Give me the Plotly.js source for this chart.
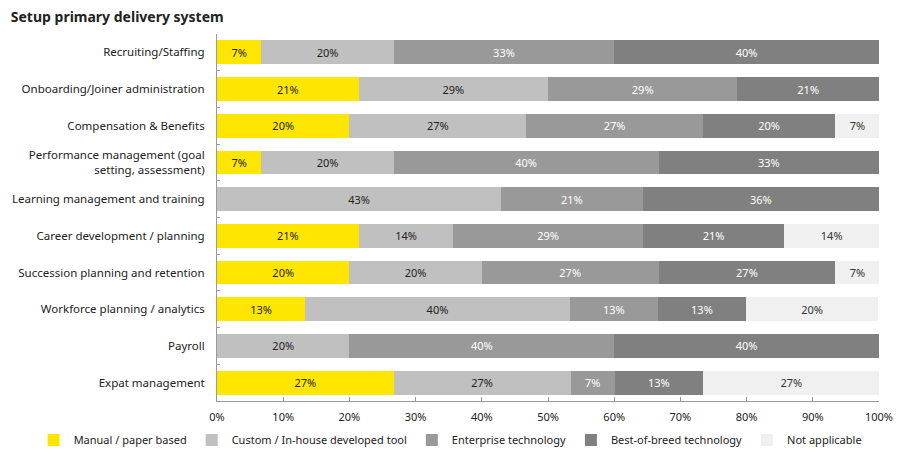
<!DOCTYPE html>
<html>
<head>
<meta charset="utf-8">
<script src="https://cdn.plot.ly/plotly-3.0.1.min.js"></script>
<style>html,body{margin:0;padding:0;background:#fff;}#chart{width:900px;height:460px;}</style>
</head>
<body>
<div id="chart"></div>
<script>
const categories = [
  "Recruiting/Staffing",
  "Onboarding/Joiner administration",
  "Compensation & Benefits",
  "Performance management (goal<br>setting, assessment)",
  "Learning management and training",
  "Career development / planning",
  "Succession planning and retention",
  "Workforce planning / analytics",
  "Payroll",
  "Expat management"
];
const seriesNames = ["Manual / paper based", "Custom / In-house developed tool", "Enterprise technology", "Best-of-breed technology", "Not applicable"];
const manual     = [6.7, 21.4, 20.0, 6.7, 0, 21.4, 20.0, 13.3, 0, 26.7];
const custom     = [20.0, 28.6, 26.7, 20.0, 42.9, 14.3, 20.0, 40.0, 20.0, 26.7];
const enterprise = [33.3, 28.6, 26.7, 40.0, 21.4, 28.6, 26.7, 13.3, 40.0, 6.7];
const bestBreed  = [40.0, 21.4, 20.0, 33.3, 35.7, 21.4, 26.7, 13.3, 40.0, 13.3];
const notApplic  = [0, 0, 6.7, 0, 0, 14.3, 6.7, 20.0, 0, 26.7];
const xTickVals = [0,10,20,30,40,50,60,70,80,90,100];
const xTickText = ["0%","10%","20%","30%","40%","50%","60%","70%","80%","90%","100%"];

const series = [manual, custom, enterprise, bestBreed, notApplic];
const colors = ["#FFE600", "#C0C0C0", "#999999", "#808080", "#F0F0F0"];
const textColors = ["#222222", "#222222", "#FFFFFF", "#FFFFFF", "#333333"];
const FONT = "Noto Sans, Arial, sans-serif";

const traces = series.map((vals, i) => ({
  type: "bar",
  orientation: "h",
  name: seriesNames[i],
  y: categories,
  x: vals,
  marker: {color: colors[i], line: {width: 0}},
  text: vals.map(v => v > 0 ? Math.round(v) + "%" : ""),
  texttemplate: "%{text}",
  textposition: "inside",
  insidetextanchor: "middle",
  textangle: 0,
  constraintext: "none",
  insidetextfont: {family: FONT, size: 11, color: textColors[i]},
  hoverinfo: "skip"
}));

const layout = {
  width: 900, height: 460,
  margin: {l: 217, r: 21, t: 34, b: 59, autoexpand: false},
  paper_bgcolor: "#FFFFFF",
  plot_bgcolor: "#FFFFFF",
  barmode: "stack",
  bargap: 0.35,
  font: {family: FONT, size: 11.5, color: "#222222"},
  title: {text: "<b>Setup primary delivery system</b>", x: 0.012, xanchor: "left", y: 0.963, yanchor: "middle",
          font: {family: FONT, size: 14, color: "#222222"}},
  xaxis: {
    range: [0, 100], tickvals: xTickVals, ticktext: xTickText,
    showgrid: false, zeroline: false,
    showline: true, linecolor: "#9A9A9A", linewidth: 1,
    ticks: "inside", ticklen: 4, tickcolor: "#9A9A9A",
    ticklabelstandoff: 6,
    tickfont: {family: FONT, size: 11, color: "#222222"},
    fixedrange: true
  },
  yaxis: {
    autorange: "reversed", type: "category",
    showgrid: false, zeroline: false,
    showline: true, linecolor: "#9A9A9A", linewidth: 1,
    ticks: "inside", tickson: "boundaries", ticklen: 3, tickcolor: "#9A9A9A",
    ticklabelstandoff: 9,
    tickfont: {family: FONT, size: 11.5, color: "#222222"},
    fixedrange: true
  },
  legend: {
    orientation: "h", xref: "paper", x: -0.277, xanchor: "left",
    yref: "paper", y: -0.106, yanchor: "middle",
    font: {family: FONT, size: 11, color: "#222222"},
    traceorder: "normal", itemwidth: 30, tracegroupgap: 0,
    itemclick: false, itemdoubleclick: false
  },
  showlegend: true
};

Plotly.newPlot("chart", traces, layout, {displayModeBar: false, staticPlot: true});
</script>
</body>
</html>
